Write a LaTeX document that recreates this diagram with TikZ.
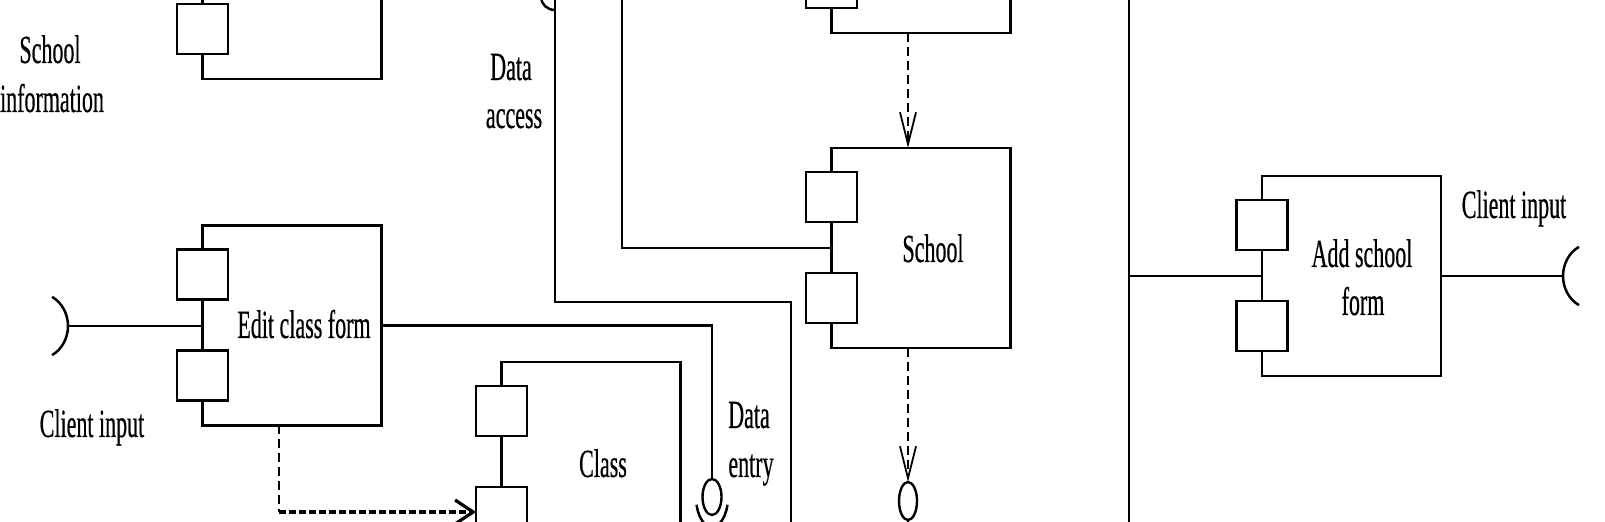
\documentclass[tikz,border=0pt]{standalone}
\usepackage{fontspec}
\setmainfont{Liberation Serif}[FakeStretch=0.55,FakeBold=0.4]
\usetikzlibrary{arrows.meta,shapes.geometric}
\begin{document}
\begin{tikzpicture}[x=0.5pt,y=-0.5pt,
  comp/.style={draw, line width=1.4pt, minimum width=89.5pt, minimum height=100pt, inner sep=0pt, outer sep=0pt, fill=white},
  port/.style={draw, line width=1.4pt, minimum width=25.5pt, minimum height=25pt, inner sep=0pt, outer sep=0pt, fill=white},
  conn/.style={line width=1.25pt},
  ball/.style={draw, ellipse, line width=1.2pt, inner sep=0pt, outer sep=0pt, minimum width=9.5pt, minimum height=18pt},
  txt/.style={inner sep=0pt, anchor=base, font=\fontsize{20pt}{24pt}\selectfont},
  dashv/.style={line width=0.9pt, dash pattern=on 4.5pt off 2.5pt},
  dashh/.style={line width=1.6pt, dash pattern=on 3.5pt off 1.5pt},
  vtip/.style={-{Straight Barb[length=16pt,width=8pt]}},
  htip/.style={-{Straight Barb[length=9pt,width=12pt]}}]
\useasboundingbox (0,0) rectangle (1605,522);
\clip (0,0) rectangle (1605,522);

% components
\node[comp] (topL) at (292,-21) {};
\node[comp] (edit) at (292,325.5) {};
\node[comp] (class) at (591,462) {};
\node[comp] (topR) at (921,-67) {};
\node[comp] (school) at (921,248) {};
\node[comp] (add) at (1351.5,276) {};

% ports
\node[port] (topLp2) at ([yshift=-25pt]topL.west) {};
\node[port] (editp1) at ([yshift=25.5pt]edit.west) {};
\node[port] (editp2) at ([yshift=-25pt]edit.west) {};
\node[port] (classp1) at ([yshift=25.5pt]class.west) {};
\node[port] (classp2) at ([yshift=-25pt]class.west) {};
\node[port] (topRp2) at ([yshift=-25pt]topR.west) {};
\node[port] (schoolp1) at ([yshift=25.5pt]school.west) {};
\node[port] (schoolp2) at ([yshift=-25pt]school.west) {};
\node[port] (addp1) at ([yshift=25.5pt]add.west) {};
\node[port] (addp2) at ([yshift=-25pt]add.west) {};

% texts
\node[txt] (tSchoolInfo1) at (50,63) {School};
\node[txt] (tSchoolInfo2) at (52,112) {information};
\node[txt] (tDataA1) at (511,80) {Data};
\node[txt] (tDataA2) at (514,128) {access};
\node[txt] (tClientL) at (92,437) {Client input};
\node[txt] (tEdit) at (304,338) {Edit class form};
\node[txt] (tClass) at (603,477) {Class};
\node[txt] (tDataE1) at (749,428) {Data};
\node[txt] (tDataE2) at (751,477) {entry};
\node[txt] (tSchool) at (933,262) {School};
\node[txt] (tAdd1) at (1362,267) {Add school};
\node[txt] (tAdd2) at (1363,315) {form};
\node[txt] (tClientR) at (1514,218) {Client input};

% balls
\node[ball] (ballDE) at (712,497) {};
\node[ball, minimum width=9pt, minimum height=19pt] (ballS) at (908,501) {};

% free ends
\coordinate (sockL) at (68,326);
\coordinate (sockR) at (1563,276);
\coordinate (daTop) at (555,0);
\coordinate (daBend) at (555,302);
\coordinate (daBot) at (791,522);
\coordinate (scTop) at (622,0);
\coordinate (vTop) at (1129,0);
\coordinate (vBot) at (1129,522);
\coordinate (editOut) at ([xshift=-6.5pt]edit.south);

% connectors
\draw[conn] (sockL) arc[start angle=0,end angle=62,x radius=15pt,y radius=16.5pt];
\draw[conn] (sockL) arc[start angle=0,end angle=-62,x radius=15pt,y radius=16.5pt];
\draw[conn] (sockL) -- (sockL -| edit.west);
\draw[conn] (edit.east) -| (ballDE.north);
\draw[conn] ([shift={(7.73pt,-3.88pt)}]ballDE.center) arc[start angle=-15,end angle=-165,x radius=8pt,y radius=15pt];
\draw[dashv] (editOut) -- (editOut |- classp2.west);
\draw[dashh, htip] (editOut |- classp2.west) -- (classp2.west);
\draw[conn] (daTop) -- (daBend) -| (daBot);
\draw[conn] ([shift={(-7pt,1.5pt)}]daTop) arc[start angle=180,end angle=270,x radius=7pt,y radius=6.5pt];
\draw[conn] (scTop) |- (school.west);
\draw[dashv, vtip] ([xshift=-6.5pt]topR.south) -- ([xshift=-6.5pt]school.north);
\draw[dashv, vtip] ([xshift=-6.5pt]school.south) -- (ballS.north);
\draw[conn] (ballS.south) -- ++(0,10);
\draw[conn] (vTop) -- (vBot);
\draw[conn] (vTop |- add.west) -- (add.west);
\draw[conn] (add.east) -- (sockR);
\draw[conn] (sockR) arc[start angle=180,end angle=118,x radius=15pt,y radius=16.5pt];
\draw[conn] (sockR) arc[start angle=180,end angle=242,x radius=15pt,y radius=16.5pt];
\end{tikzpicture}
\end{document}
